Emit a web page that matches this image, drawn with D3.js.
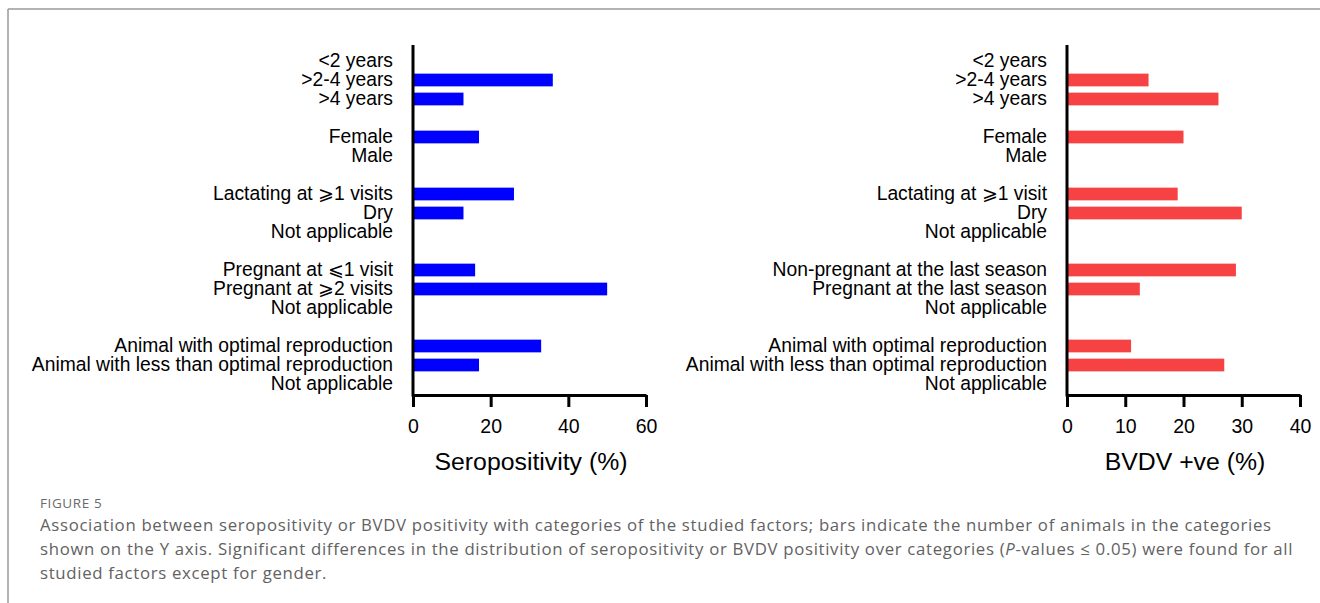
<!DOCTYPE html>
<html>
<head>
<meta charset="utf-8">
<script src="https://cdn.jsdelivr.net/npm/d3@7/dist/d3.min.js"></script>
<style>
  html, body { margin: 0; padding: 0; background: #fff; }
  svg { display: block; }
</style>
</head>
<body>
<svg id="fig" width="1320" height="603"></svg>
<script>
// Seropositivity (%) by category, grouped by studied factor
const seroGroups = [
  ["<2 years", ">2-4 years", ">4 years"],
  ["Female", "Male"],
  ["Lactating at \u2A7E1 visits", "Dry", "Not applicable"],
  ["Pregnant at \u2A7D1 visit", "Pregnant at \u2A7E2 visits", "Not applicable"],
  ["Animal with optimal reproduction", "Animal with less than optimal reproduction", "Not applicable"]
];
const seroValues = [
  [0, 36, 13],
  [17, 0],
  [26, 13, 0],
  [16, 50, 0],
  [33, 17, 0]
];
const seroTicks = [0, 20, 40, 60];

// BVDV positive (%) by category
const bvdvGroups = [
  ["<2 years", ">2-4 years", ">4 years"],
  ["Female", "Male"],
  ["Lactating at \u2A7E1 visit", "Dry", "Not applicable"],
  ["Non-pregnant at the last season", "Pregnant at the last season", "Not applicable"],
  ["Animal with optimal reproduction", "Animal with less than optimal reproduction", "Not applicable"]
];
const bvdvValues = [
  [0, 14, 26],
  [20, 0],
  [19, 30, 0],
  [29, 12.5, 0],
  [11, 27, 0]
];
const bvdvTicks = [0, 10, 20, 30, 40];

const captionHead = "FIGURE 5";
const captionLines = [
  "Association between seropositivity or BVDV positivity with categories of the studied factors; bars indicate the number of animals in the categories",
  "shown on the Y axis. Significant differences in the distribution of seropositivity or BVDV positivity over categories (P-values \u2264 0.05) were found for all",
  "studied factors except for gender."
];

const svg = d3.select("#fig");

// figure frame (top and left rules)
svg.append("line").attr("x1", 8).attr("x2", 1320).attr("y1", 9).attr("y2", 9)
  .attr("stroke", "#9a9a9a").attr("stroke-width", 1.5);
svg.append("line").attr("x1", 8).attr("x2", 8).attr("y1", 9).attr("y2", 603)
  .attr("stroke", "#9a9a9a").attr("stroke-width", 1.5);

function rowsFrom(groups, values) {
  const rows = [];
  groups.forEach((g, gi) => {
    if (gi > 0) rows.push({ key: "gap" + gi, label: "", value: 0 });
    g.forEach((lab, i) => rows.push({ key: gi + "-" + i, label: lab, value: values[gi][i] }));
  });
  return rows;
}

function drawPanel(opt) {
  const rows = rowsFrom(opt.groups, opt.values);
  const g = svg.append("g");
  const axisY = 395;
  const y = d3.scaleBand()
    .domain(rows.map(d => d.key))
    .range([51.5, 393.5])
    .paddingInner(0.33)
    .paddingOuter(0.165);
  const x = d3.scaleLinear().domain([0, opt.max]).range([opt.x0, opt.x1]);
  const labelOf = new Map(rows.map(d => [d.key, d.label]));

  // bars
  g.selectAll("rect.bar").data(rows.filter(d => d.value > 0)).join("rect")
    .attr("class", "bar")
    .attr("x", x(0))
    .attr("y", d => y(d.key))
    .attr("width", d => x(d.value) - x(0))
    .attr("height", y.bandwidth())
    .attr("fill", opt.color);

  // category labels
  const ya = g.append("g").attr("transform", `translate(${opt.x0},0)`)
    .call(d3.axisLeft(y).tickSize(0).tickPadding(20).tickFormat(k => labelOf.get(k)));
  ya.select(".domain").remove();
  ya.selectAll("text")
    .attr("font-family", "'Liberation Sans', Arial, sans-serif")
    .attr("font-size", 19.3)
    .attr("fill", "#000");

  // value axis
  const xa = g.append("g").attr("transform", `translate(0,${axisY})`)
    .call(d3.axisBottom(x).tickValues(opt.ticks).tickSize(12).tickSizeOuter(0).tickPadding(12.5));
  xa.select(".domain").attr("stroke", "#000").attr("stroke-width", 3);
  xa.selectAll(".tick line").attr("stroke", "#000").attr("stroke-width", 3);
  xa.selectAll("text")
    .attr("font-family", "'Liberation Sans', Arial, sans-serif")
    .attr("font-size", 19.5)
    .attr("fill", "#000");

  // category axis line
  g.append("line")
    .attr("x1", opt.x0).attr("x2", opt.x0)
    .attr("y1", 45).attr("y2", axisY + 1.5)
    .attr("stroke", "#000").attr("stroke-width", 3);

  // axis title
  g.append("text")
    .attr("x", (opt.x0 + opt.x1) / 2 + 1.5)
    .attr("y", 470)
    .attr("text-anchor", "middle")
    .attr("font-family", "'Liberation Sans', Arial, sans-serif")
    .attr("font-size", 24.8)
    .attr("fill", "#000")
    .text(opt.title);
}

drawPanel({ groups: seroGroups, values: seroValues, ticks: seroTicks, max: 60,
  x0: 413, x1: 646, color: "#0000ff", title: "Seropositivity (%)" });
drawPanel({ groups: bvdvGroups, values: bvdvValues, ticks: bvdvTicks, max: 40,
  x0: 1067, x1: 1300, color: "#f64242", title: "BVDV +ve (%)" });

// caption
const cap = svg.append("g").attr("font-family", "'Open Sans', sans-serif").attr("fill", "#626262");
cap.append("text").attr("x", 40).attr("y", 508).attr("font-size", 13.5)
  .attr("letter-spacing", 0.6).attr("fill", "#6a6a6a")
  .text(captionHead);
const capTexts = captionLines.map((line, i) => {
  const t = cap.append("text").attr("x", 40).attr("y", 531 + i * 24).attr("font-size", 16.8);
  if (line.includes("P-values")) {
    const [a, b] = line.split("P-values");
    t.append("tspan").text(a);
    t.append("tspan").attr("font-style", "italic").text("P");
    t.append("tspan").text("-values" + b);
  } else {
    t.text(line);
  }
  return t;
});
// widen tracking so the first line runs to the right margin
const first = capTexts[0];
const natural = first.node().getComputedTextLength();
const spacing = (1231 - natural) / (captionLines[0].length - 1);
capTexts.forEach(t => t.attr("letter-spacing", spacing));
</script>
</body>
</html>
